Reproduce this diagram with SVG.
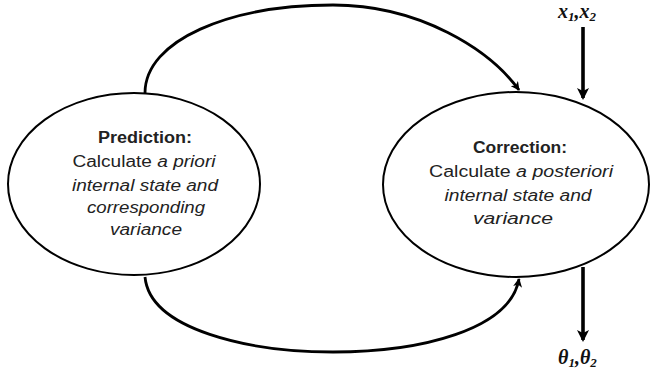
<svg xmlns="http://www.w3.org/2000/svg" width="653" height="374" viewBox="0 0 653 374">
<defs>
<marker id="ah" markerWidth="9" markerHeight="9" refX="8" refY="4.5" orient="auto" markerUnits="userSpaceOnUse">
<path d="M0,0 L9,4.5 L0,9 L2.5,4.5 Z" fill="#000"/>
</marker>
<marker id="big" markerWidth="12" markerHeight="12" refX="10" refY="6" orient="auto" markerUnits="userSpaceOnUse">
<path d="M0,0 L12,6 L0,12 L3,6 Z" fill="#000"/>
</marker>
<style>
.node ellipse{fill:#fff;stroke:#000;stroke-width:2}
.t{font-family:"Liberation Sans",Arial,sans-serif;font-size:16px;fill:#222;text-anchor:middle}
.b{font-weight:bold}
.i{font-style:italic}
.arc{fill:none;stroke:#000;stroke-width:2.8}
.shaft{fill:none;stroke:#000;stroke-width:3.6}
.m{font-family:"Liberation Serif","Times New Roman",serif;font-weight:bold;font-style:italic;font-size:20px;fill:#111}
.sub{font-size:13px}
</style>
</defs>
<rect width="653" height="374" fill="#fff"/>
<g id="connectors">
<path class="arc" d="M145,93 C145,40 230,5 333,5 C420,5 490,50 519,90" marker-end="url(#ah)"/>
<path class="arc" d="M145,277 C150,330 250,352 333,352 C420,352 510,330 519,279" marker-end="url(#ah)"/>
<path class="shaft" d="M583,27 L583,98" marker-end="url(#big)"/>
<path class="shaft" d="M583,267 L583,340" marker-end="url(#big)"/>
</g>
<g id="prediction" class="node">
<ellipse cx="134" cy="184" rx="126" ry="91"/>
<text class="t b" x="145" y="143" textLength="94" lengthAdjust="spacingAndGlyphs">Prediction:</text>
<text class="t" x="144" y="167" textLength="143" lengthAdjust="spacingAndGlyphs">Calculate <tspan class="i">a priori</tspan></text>
<text class="t i" x="145" y="191" textLength="146" lengthAdjust="spacingAndGlyphs">internal state and</text>
<text class="t i" x="146" y="213" textLength="118" lengthAdjust="spacingAndGlyphs">corresponding</text>
<text class="t i" x="146" y="235" textLength="72" lengthAdjust="spacingAndGlyphs">variance</text>
</g>
<g id="correction" class="node">
<ellipse cx="516" cy="184.5" rx="133" ry="92.5"/>
<text class="t b" x="520" y="153" textLength="94" lengthAdjust="spacingAndGlyphs">Correction:</text>
<text class="t" x="521" y="177" textLength="184" lengthAdjust="spacingAndGlyphs">Calculate <tspan class="i">a posteriori</tspan></text>
<text class="t i" x="518" y="201" textLength="147" lengthAdjust="spacingAndGlyphs">internal state and</text>
<text class="t i" x="513" y="224" textLength="80" lengthAdjust="spacingAndGlyphs">variance</text>
</g>
<g id="inputs">
<text class="m" x="558" y="18">x<tspan class="sub" dy="3">1</tspan><tspan dy="-3">,x</tspan><tspan class="sub" dy="3">2</tspan></text>
</g>
<g id="outputs">
<text class="m" x="558" y="364">θ<tspan class="sub" dy="3">1</tspan><tspan dy="-3">,θ</tspan><tspan class="sub" dy="3">2</tspan></text>
</g>
</svg>
